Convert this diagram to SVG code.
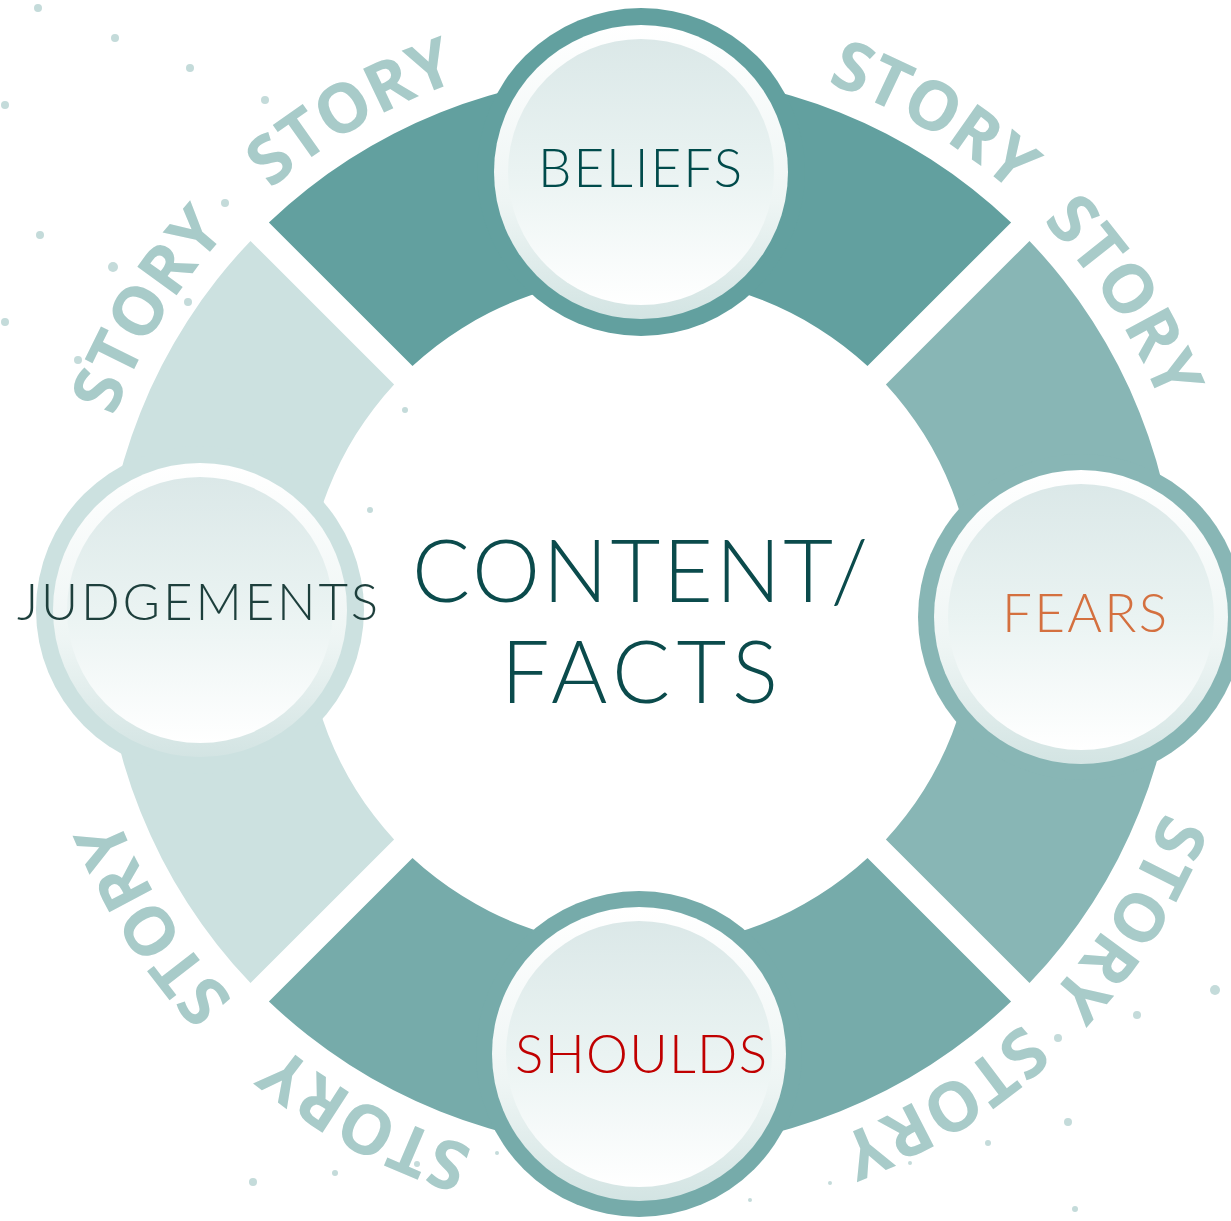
<svg xmlns="http://www.w3.org/2000/svg" xmlns:xlink="http://www.w3.org/1999/xlink" width="1231" height="1221" viewBox="0 0 1231 1221">
<style>
.lbl{font-family:Lato,"Open Sans","Liberation Sans",sans-serif;font-weight:300;}
.story{font-family:"Open Sans","Liberation Sans",sans-serif;font-weight:700;font-size:68px;fill:#a8cbc9;letter-spacing:0px;}
.dot{fill:#c4dbda;}
</style>
<defs>
<linearGradient id="rim" x1="0" y1="0" x2="0" y2="1">
<stop offset="0" stop-color="#ffffff"/>
<stop offset="0.6" stop-color="#eef5f4"/>
<stop offset="1" stop-color="#d3e4e3"/>
</linearGradient>
<linearGradient id="disc" x1="0" y1="0" x2="0" y2="1">
<stop offset="0" stop-color="#dbe8e8"/>
<stop offset="0.5" stop-color="#eaf3f2"/>
<stop offset="1" stop-color="#ffffff"/>
</linearGradient>
<path id="seg" d="M268.9,222.5 A538,538 0 0,1 1011.1,222.5 L867.5,366.1 A335,335 0 0,0 412.5,366.1 Z"/>
<path id="arc" d="M279.4,182.2 A561,561 0 0,1 1000.6,182.2"/>
</defs>
<rect width="1231" height="1221" fill="#ffffff"/>
<g id="dots">
<circle class="dot" cx="38" cy="8" r="4"/>
<circle class="dot" cx="115" cy="38" r="4"/>
<circle class="dot" cx="190" cy="68" r="4"/>
<circle class="dot" cx="5" cy="105" r="4"/>
<circle class="dot" cx="265" cy="100" r="4"/>
<circle class="dot" cx="225" cy="203" r="4"/>
<circle class="dot" cx="113" cy="267" r="5"/>
<circle class="dot" cx="188" cy="302" r="4"/>
<circle class="dot" cx="78" cy="360" r="4"/>
<circle class="dot" cx="40" cy="235" r="4"/>
<circle class="dot" cx="5" cy="322" r="4"/>
<circle class="dot" cx="405" cy="410" r="3"/>
<circle class="dot" cx="370" cy="510" r="3"/>
<circle class="dot" cx="253" cy="1182" r="4"/>
<circle class="dot" cx="335" cy="1173" r="3"/>
<circle class="dot" cx="417" cy="1164" r="3"/>
<circle class="dot" cx="497" cy="1153" r="2"/>
<circle class="dot" cx="750" cy="1200" r="2"/>
<circle class="dot" cx="1058" cy="1038" r="4"/>
<circle class="dot" cx="1068" cy="1122" r="4"/>
<circle class="dot" cx="988" cy="1143" r="3"/>
<circle class="dot" cx="830" cy="1183" r="2"/>
<circle class="dot" cx="1075" cy="1209" r="3"/>
<circle class="dot" cx="910" cy="1163" r="2"/>
<circle class="dot" cx="1215" cy="990" r="5"/>
<circle class="dot" cx="1137" cy="1015" r="4"/>
</g>
<g id="connectors">
<use xlink:href="#seg" fill="#62a09f"/>
<use xlink:href="#seg" fill="#88b6b5" transform="rotate(90 640 612)"/>
<use xlink:href="#seg" fill="#76abaa" transform="rotate(180 640 612)"/>
<use xlink:href="#seg" fill="#cce1e0" transform="rotate(270 640 612)"/>
</g>
<g id="story-labels">
<text class="story" transform="rotate(-30 640 612)"><textPath xlink:href="#arc" startOffset="50%" text-anchor="middle">STORY</textPath></text>
<text class="story" transform="rotate(30.6 640 612)"><textPath xlink:href="#arc" startOffset="50%" text-anchor="middle">STORY</textPath></text>
<text class="story" transform="rotate(57 640 612)"><textPath xlink:href="#arc" startOffset="50%" text-anchor="middle">STORY</textPath></text>
<text class="story" transform="rotate(122 640 612)"><textPath xlink:href="#arc" startOffset="50%" text-anchor="middle">STORY</textPath></text>
<text class="story" transform="rotate(148.2 640 612)"><textPath xlink:href="#arc" startOffset="50%" text-anchor="middle">STORY</textPath></text>
<text class="story" transform="rotate(208.4 640 612)"><textPath xlink:href="#arc" startOffset="50%" text-anchor="middle">STORY</textPath></text>
<text class="story" transform="rotate(237.5 640 612)"><textPath xlink:href="#arc" startOffset="50%" text-anchor="middle">STORY</textPath></text>
<text class="story" transform="rotate(-58.5 640 612)"><textPath xlink:href="#arc" startOffset="50%" text-anchor="middle">STORY</textPath></text>
</g>
<g id="node-beliefs">
<circle cx="641" cy="172" r="164" fill="#62a09f"/>
<circle cx="641" cy="172" r="147" fill="url(#rim)"/>
<circle cx="641" cy="172" r="133" fill="url(#disc)"/>
<text class="lbl" x="538" y="187" font-size="53" fill="#004b4b" textLength="204">BELIEFS</text>
</g>
<g id="node-fears">
<circle cx="1081" cy="617" r="163" fill="#88b6b5"/>
<circle cx="1081" cy="617" r="147" fill="url(#rim)"/>
<circle cx="1081" cy="617" r="133" fill="url(#disc)"/>
<text class="lbl" x="1002" y="632" font-size="53" fill="#d4703f" textLength="165">FEARS</text>
</g>
<g id="node-shoulds">
<circle cx="639" cy="1054" r="163" fill="#76abaa"/>
<circle cx="639" cy="1054" r="147" fill="url(#rim)"/>
<circle cx="639" cy="1054" r="133" fill="url(#disc)"/>
<text class="lbl" x="515" y="1073" font-size="53" fill="#c00000" textLength="252">SHOULDS</text>
</g>
<g id="node-judgements">
<circle cx="200" cy="610" r="164" fill="#cce1e0"/>
<circle cx="200" cy="610" r="147" fill="url(#rim)"/>
<circle cx="200" cy="610" r="133" fill="url(#disc)"/>
<text class="lbl" x="17" y="620" font-size="51" fill="#1d3f3c" textLength="361">JUDGEMENTS</text>
</g>
<g id="node-center">
<text class="lbl" x="412" y="602" font-size="86" fill="#0b4b4c" textLength="456">CONTENT/</text>
<text class="lbl" x="501" y="703" font-size="86" fill="#0b4b4c" textLength="277">FACTS</text>
</g>
</svg>
